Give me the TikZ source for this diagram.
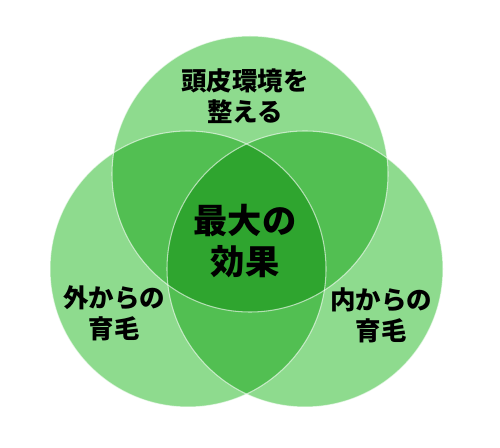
\documentclass[tikz,border=0pt]{standalone}
\usepackage{fontspec}
\newfontfamily\jpfont{Noto Sans CJK JP}
\definecolor{leafone}{HTML}{8EDB8E}
\definecolor{leaftwo}{HTML}{52BF52}
\definecolor{leafthree}{HTML}{2FA52F}
\tikzset{
  rim/.style={draw=white,draw opacity=0.6,line width=0.6pt},
  small label/.style={align=center,font=\jpfont\bfseries\fontsize{14.5}{17.5}\selectfont},
  big label/.style={align=center,font=\jpfont\bfseries\fontsize{19.5}{23}\selectfont}
}
\begin{document}
\begin{tikzpicture}[x=0.02cm,y=-0.02cm,line cap=round]
  \useasboundingbox (0,0) rectangle (500,448);
  \def\rad{138}
  \coordinate (ctop) at (250,174);
  \coordinate (cleft) at (188,269);
  \coordinate (cright) at (305,269);

  % single circles
  \fill[leafone] (ctop) circle[radius=\rad];
  \fill[leafone] (cleft) circle[radius=\rad];
  \fill[leafone] (cright) circle[radius=\rad];

  % pairwise overlaps
  \begin{scope}
    \clip (ctop) circle[radius=\rad];
    \fill[leaftwo] (cleft) circle[radius=\rad];
    \fill[leaftwo] (cright) circle[radius=\rad];
  \end{scope}
  \begin{scope}
    \clip (cleft) circle[radius=\rad];
    \fill[leaftwo] (cright) circle[radius=\rad];
  \end{scope}

  % common part
  \begin{scope}
    \clip (ctop) circle[radius=\rad];
    \clip (cleft) circle[radius=\rad];
    \fill[leafthree] (cright) circle[radius=\rad];
  \end{scope}

  % rims
  \path[rim] (ctop) circle[radius=\rad];
  \path[rim] (cleft) circle[radius=\rad];
  \path[rim] (cright) circle[radius=\rad];

  % labels
  \node[small label] (scalp) at (245,96) {頭皮環境を\\整える};
  \node[small label] (outer) at (114,313) {外からの\\育毛};
  \node[small label] (inner) at (381,315) {内からの\\育毛};
  \node[big label] (best) at (245,241) {最大の\\効果};
\end{tikzpicture}
\end{document}
